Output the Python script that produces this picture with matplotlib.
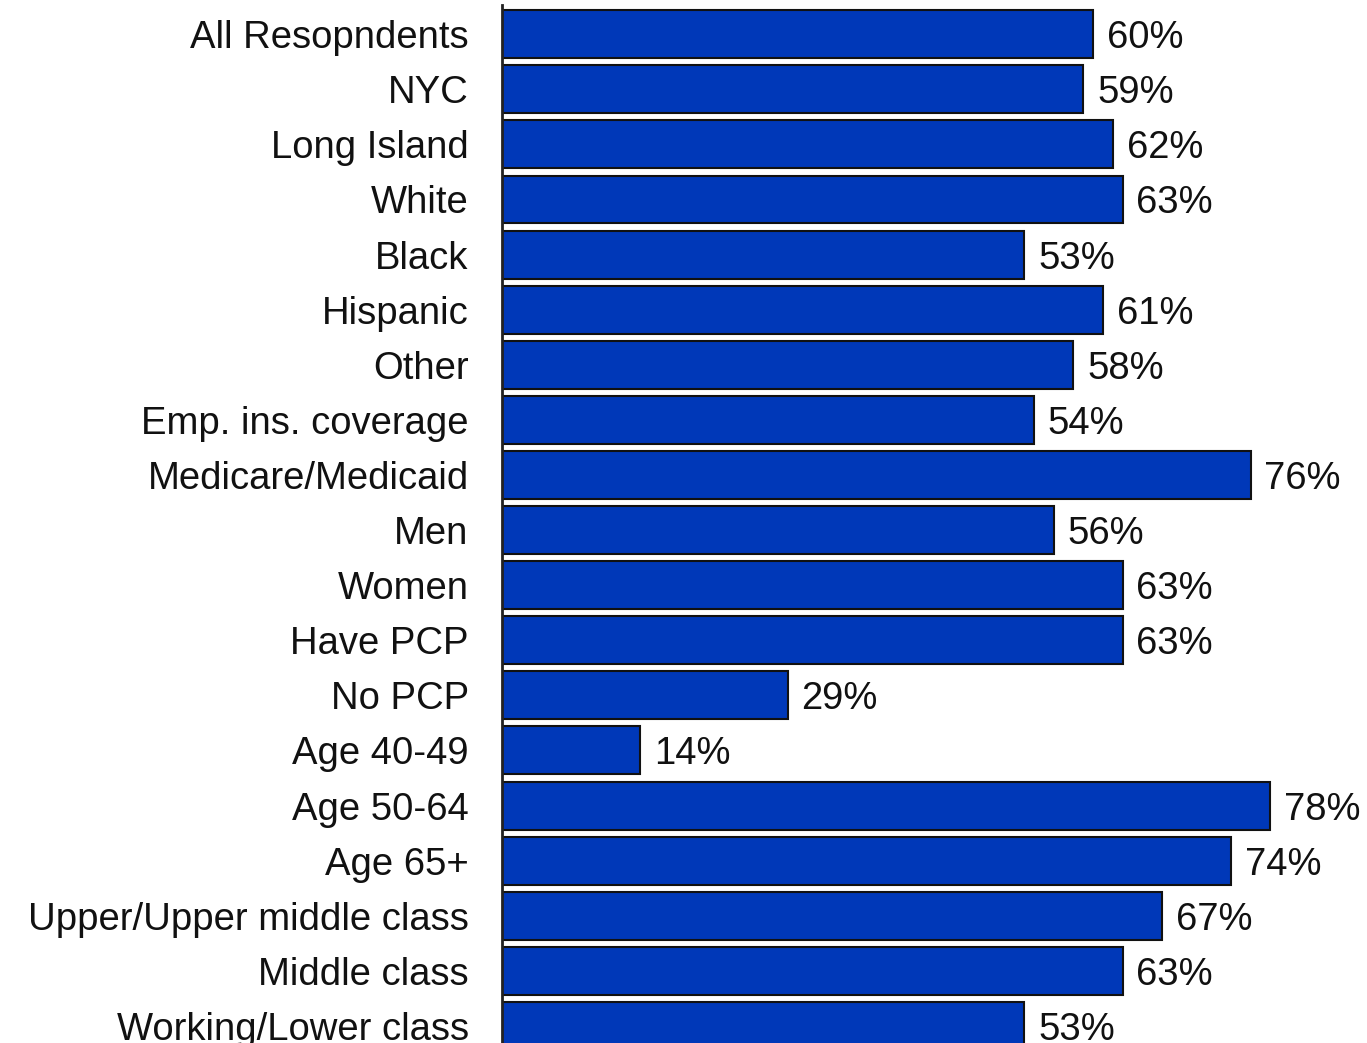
import numpy as np
import matplotlib
matplotlib.use("Agg")
import matplotlib.pyplot as plt

plt.rcParams["font.family"] = ["Liberation Sans", "DejaVu Sans"]

categories = [
    "All Resopndents", "NYC", "Long Island", "White", "Black", "Hispanic",
    "Other", "Emp. ins. coverage", "Medicare/Medicaid", "Men", "Women",
    "Have PCP", "No PCP", "Age 40-49", "Age 50-64", "Age 65+",
    "Upper/Upper middle class", "Middle class", "Working/Lower class",
]
values = [60, 59, 62, 63, 53, 61, 58, 54, 76, 56, 63, 63, 29, 14, 78, 74, 67, 63, 53]

bar_color = "#0038B8"

fig = plt.figure(figsize=(13.67, 10.43), dpi=100)
ax = fig.add_axes([502 / 1367, 0, 1 - 502 / 1367, 1 - 5 / 1043])

y = np.arange(len(categories))
ax.barh(y, values, height=0.87, color=bar_color, edgecolor="#111111", linewidth=1.5)

for yi, v in zip(y, values):
    ax.annotate(f"{v}%", xy=(v, yi), xytext=(10, 0), textcoords="offset points",
                va="center_baseline", ha="left", fontsize=27.5, color="#111111")

ax.set_yticks(y)
ax.set_yticklabels(categories, fontsize=27.5, color="#111111")
ax.tick_params(axis="y", length=0, pad=24)
ax.set_xticks([])
ax.set_xlim(0, 865 / 9.85)
ax.set_ylim(18.31, -0.53)

for side in ["top", "right", "bottom"]:
    ax.spines[side].set_visible(False)
ax.spines["left"].set_linewidth(2)
ax.spines["left"].set_color("#222222")

fig.savefig("out.png", dpi=100)
